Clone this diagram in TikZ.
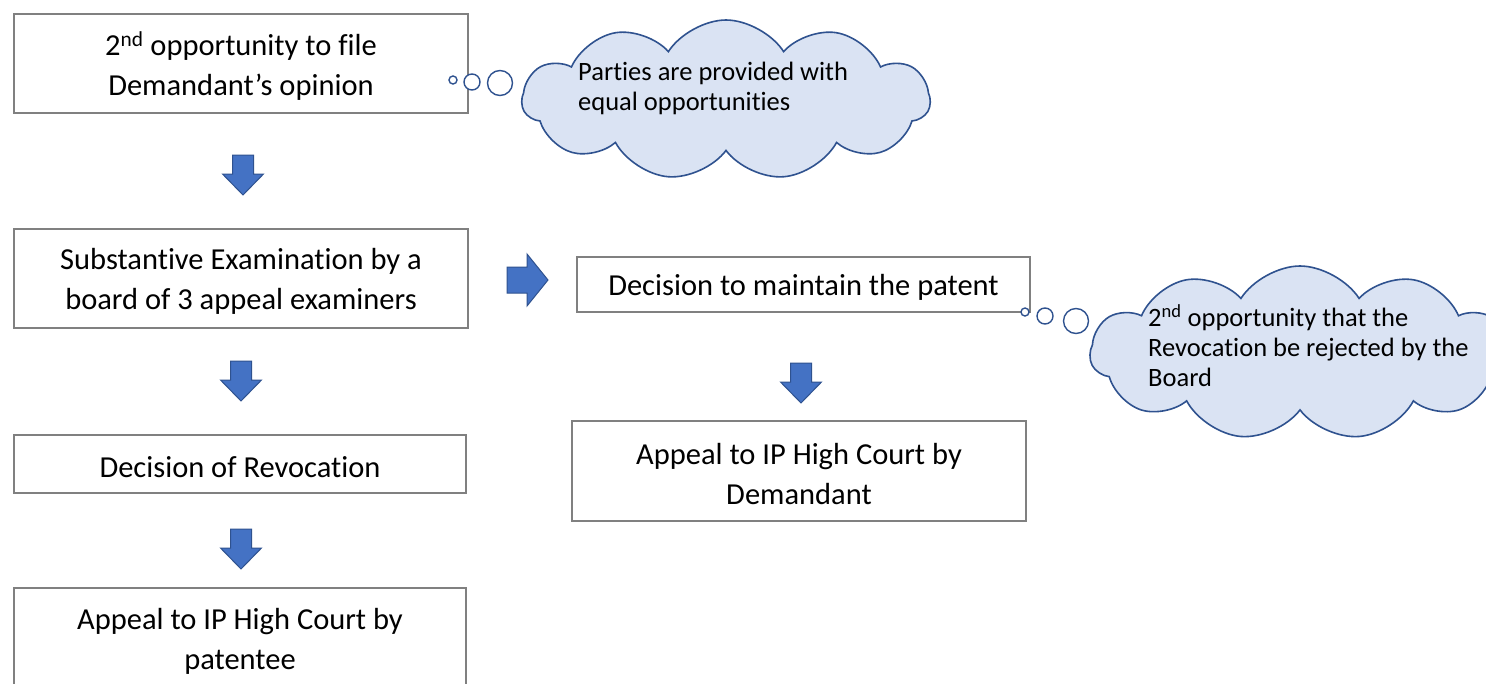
\documentclass[tikz,border=0pt]{standalone}
\usepackage{fontspec}
\setmainfont{Carlito}[Ligatures=CommonOff]
\usetikzlibrary{shapes.symbols}
\definecolor{boxline}{HTML}{808080}
\definecolor{cloudfill}{HTML}{DAE3F3}
\definecolor{cloudline}{HTML}{2F528F}
\definecolor{arrowfill}{HTML}{4472C4}
\tikzset{
  stepbox/.style={draw=boxline, line width=1.4bp, fill=white, inner sep=0pt},
  boxtext/.style={align=center, inner sep=0pt, yshift=-3bp,
    font=\fontsize{30.5bp}{40bp}\selectfont},
  thought/.style={cloud, cloud puffs=11, cloud puff arc=115, draw=cloudline,
    fill=cloudfill, line width=1.6bp, inner sep=0pt},
  bubble/.style={circle, draw=cloudline, fill=white, line width=1.4bp, inner sep=0pt},
  cloudtext/.style={align=left, anchor=north west, inner sep=0pt,
    font=\fontsize{26.5bp}{30bp}\selectfont},
  blockarrow/.style={draw=cloudline, fill=arrowfill, line width=1bp, line join=miter}
}
% block arrows drawn around a centre point
\newcommand\downblock[1]{\draw[blockarrow] (#1) ++(-10.5,-20) -- ++(21,0) -- ++(0,19)
  -- ++(10,0) -- ++(-20.5,21) -- ++(-20.5,-21) -- ++(10,0) -- cycle;}
\newcommand\rightblock[1]{\draw[blockarrow] (#1) ++(-20,-13) -- ++(20,0) -- ++(0,-13)
  -- ++(21,26) -- ++(-21,26) -- ++(0,-13) -- ++(-20,0) -- cycle;}
\begin{document}
\begin{tikzpicture}[x=1bp, y=-1bp]
\useasboundingbox (0,0) rectangle (1486,684);
\fill[white] (0,0) rectangle (1486,684);

% left column
\node[stepbox, minimum width=454bp, minimum height=99bp,
  label={[boxtext]center:{2\textsuperscript{nd} opportunity to file\\Demandant’s opinion}}]
  (opinion) at (241,63.5) {};
\node[stepbox, minimum width=454bp, minimum height=99bp,
  label={[boxtext]center:{Substantive Examination by a\\board of 3 appeal examiners}}]
  (exam) at (241,278.5) {};
\node[stepbox, minimum width=452bp, minimum height=58bp,
  label={[boxtext]center:{Decision of Revocation}}]
  (revoke) at (240,464) {};
\node[stepbox, minimum width=452bp, minimum height=100bp,
  label={[boxtext]center:{Appeal to IP High Court by\\patentee}}]
  (patentee) at (240,638) {};

% right column
\node[stepbox, minimum width=453bp, minimum height=55bp,
  label={[boxtext]center:{Decision to maintain the patent}}]
  (maintain) at (803.5,284.5) {};
\node[stepbox, minimum width=454bp, minimum height=100bp,
  label={[boxtext]center:{Appeal to IP High Court by\\Demandant}}]
  (demandant) at (799,471) {};

% flow arrows
\coordinate (a1) at (243,175);
\coordinate (a2) at (241,381);
\coordinate (a3) at (241,549);
\coordinate (a4) at (801,383);
\coordinate (a5) at (527,280);
\downblock{a1}
\downblock{a2}
\downblock{a3}
\downblock{a4}
\rightblock{a5}

% thought cloud beside the first step
\node[thought, minimum width=408bp, minimum height=160bp] (cloudA) at (726,100) {};
\node[bubble, minimum size=8bp] (bA1) at (453,80) {};
\node[bubble, minimum size=16bp] (bA2) at (472,82) {};
\node[bubble, minimum size=25bp] (bA3) at (500,83) {};
\node[cloudtext] (tA) at (578,62) {Parties are provided with\\equal opportunities};

% thought cloud beside the maintain decision
\node[thought, minimum width=420bp, minimum height=174bp] (cloudB) at (1300,353) {};
\node[bubble, minimum size=8bp] (bB1) at (1025,312) {};
\node[bubble, minimum size=16bp] (bB2) at (1045,316) {};
\node[bubble, minimum size=25bp] (bB3) at (1076,321) {};
\node[cloudtext] (tB) at (1148,304)
  {2\textsuperscript{nd} opportunity that the\\Revocation be rejected by the\\Board};
\end{tikzpicture}
\end{document}
